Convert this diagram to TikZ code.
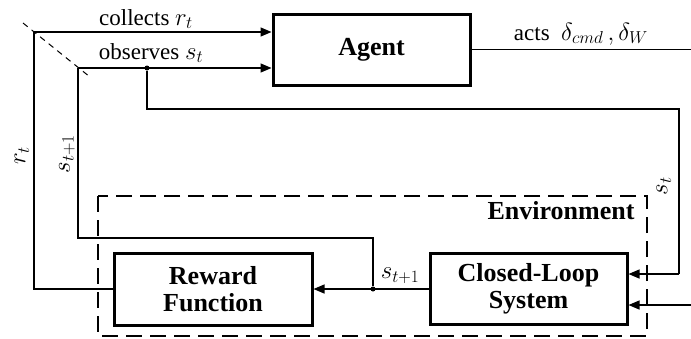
\documentclass[tikz,border=0pt]{standalone}
\usepackage{fontspec}
\setmainfont{Liberation Serif}[BoldFont={Liberation Serif Bold}, ItalicFont={Liberation Serif Italic}]
\usetikzlibrary{arrows.meta}
\tikzset{
  blk/.style={draw, line width=3pt, rectangle, inner sep=0pt, align=center,
    font=\fontsize{26}{29}\selectfont\bfseries},
  wire/.style={line width=1.3pt},
  arr/.style={wire, -{Triangle[length=11pt,width=9pt]}},
  lbl/.style={font=\fontsize{23}{26}\selectfont, inner sep=0pt},
  envbox/.style={draw, line width=2.5pt, dash pattern=on 16pt off 8pt},
  dot/.style={circle, fill, inner sep=0pt, minimum size=5pt},
}
\begin{document}
\begin{tikzpicture}[x=1pt,y=-1pt]
\useasboundingbox (0,0) rectangle (691,338);
% environment
\draw[envbox] (98,196) rectangle (647,336);
\node[font=\fontsize{26}{29}\selectfont\bfseries, inner sep=0pt] (envl) at (561,211) {Environment};
% blocks
\node[blk, minimum width=197pt, minimum height=71pt] (agent) at (371.5,49.5) {Agent};
\node[blk, minimum width=198pt, minimum height=72pt] (reward) at (213,289) {Reward\\[-2pt]Function};
\node[blk, minimum width=197pt, minimum height=71pt] (cls) at (528.5,288.5) {Closed-Loop\\[-2pt]System};
% coordinates
\coordinate (c1) at (34,32);
\coordinate (c2) at (78,68);
\node[dot] (d1) at (147,68) {};
\node[dot] (d2) at (373,289) {};
\coordinate (k1) at (679,109);
\coordinate (k2) at (679,274);
\coordinate (inB) at (691,305);
\coordinate (actend) at (691,49.5);
\coordinate (k3) at (373,238);
\coordinate (k4) at (78,238);
\coordinate (dg1) at (23,23);
\coordinate (dg2) at (90,77);
% wires
\draw[arr] (c1) -- (agent.west |- c1);
\draw[arr] (c2) -- (agent.west |- c2);
\draw[wire] (agent.east) -- (actend);
\draw[wire] (d1) |- (k1) -- (k2);
\draw[arr] (k2) -- (cls.east |- k2);
\draw[arr] (inB) -- (cls.east |- inB);
\draw[arr] (cls.west |- d2) -- (reward.east |- d2);
\draw[wire] (d2) -- (k3) -- (k4) -- (c2);
\draw[wire] (reward.west |- d2) -| (c1);
\draw[line width=1pt, dash pattern=on 6pt off 5pt] (dg1) -- (dg2);
% labels
\node[lbl] (lc) at (146,19) {collects $r_t$};
\node[lbl] (lo) at (151,53) {observes $s_t$};
\node[lbl] (la) at (581,34) {acts~~$\delta_{cmd}\,,\delta_W$};
\node[lbl, rotate=90] (lr) at (22,156) {$r_t$};
\node[lbl, rotate=90] (ls1) at (67,154) {$s_{t+1}$};
\node[lbl, rotate=90] (ls2) at (664,186) {$s_t$};
\node[lbl] (ls3) at (400,276) {$s_{t+1}$};
\end{tikzpicture}
\end{document}
